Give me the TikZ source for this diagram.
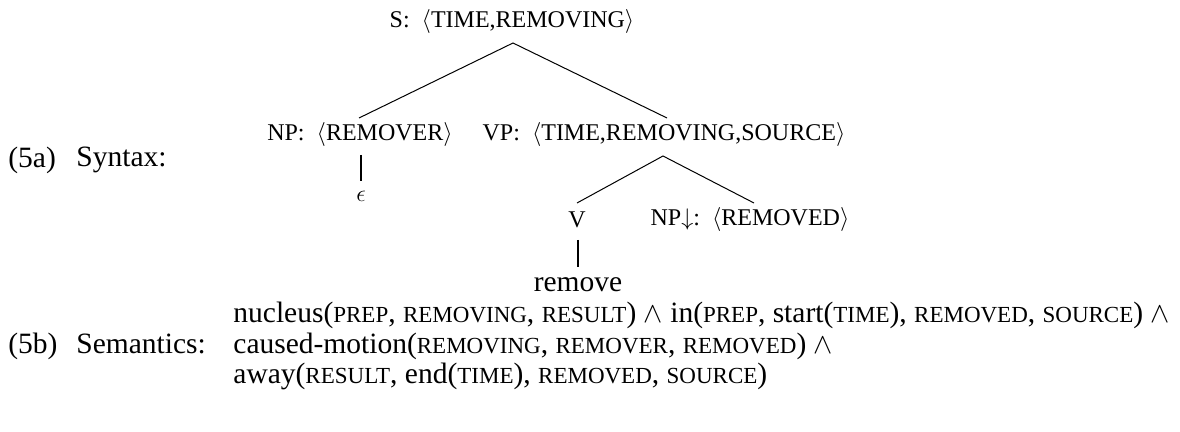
\documentclass[tikz,border=0pt]{standalone}
\usepackage{fontspec}
\setmainfont{Liberation Serif}
\newcommand\rlsc[1]{{\fontsize{11.5pt}{12pt}\selectfont #1}}
\newcommand\gapsp{\hspace{0.5em}}
\begin{document}
\begin{tikzpicture}[x=0.5pt,y=-0.5pt,
  treelab/.style={inner sep=0pt,font=\fontsize{12pt}{14pt}\selectfont},
  bigtext/.style={inner sep=0pt,font=\fontsize{14.75pt}{17pt}\selectfont},
  semline/.style={bigtext,anchor=base west,text height=10pt,text depth=3pt},
  branch/.style={line width=0.5pt},
  bar/.style={line width=1pt}]
\useasboundingbox (0,0) rectangle (1180,432);
% tree nodes
\node[treelab] (S) at (512,22) {S:\gapsp$\langle$TIME,REMOVING$\rangle$};
\node[treelab] (NP) at (360,135) {NP:\gapsp$\langle$REMOVER$\rangle$};
\node[treelab] (VP) at (664,135) {VP:\gapsp$\langle$TIME,REMOVING,SOURCE$\rangle$};
\node[treelab] (eps) at (361,196) {$\epsilon$};
\node[treelab] (V) at (577,220) {V};
\node[treelab] (NPd) at (750,220) {NP$\downarrow$:\gapsp$\langle$REMOVED$\rangle$};
\node[bigtext] (rem) at (578,285) {remove};
% attachment points
\coordinate (Sb) at (513,43);
\coordinate (NPt) at (359,118);
\coordinate (VPt) at (667,118);
\coordinate (NPb) at (361,155);
\coordinate (epst) at (361,181);
\coordinate (VPb) at (663,156);
\coordinate (Vt) at (577,203);
\coordinate (NPdt) at (754,203);
\coordinate (Vb) at (578,240);
\coordinate (remt) at (578,267);
\draw[branch] (NPt) -- (Sb) -- (VPt);
\draw[branch] (Vt) -- (VPb) -- (NPdt);
\draw[bar] (NPb) -- (epst);
\draw[bar] (Vb) -- (remt);
% labels
\node[bigtext,anchor=west] (l5a) at (8,160) {(5a)};
\node[bigtext,anchor=west] (syn) at (76,160) {Syntax:};
\node[semline] (l5b) at (8,354) {(5b)};
\node[semline] (sem) at (76,354) {Semantics:};
\node[semline] (sem1) at (233,323) {nucleus(\rlsc{PREP}, \rlsc{REMOVING}, \rlsc{RESULT}) $\wedge$ in(\rlsc{PREP}, start(\rlsc{TIME}), \rlsc{REMOVED}, \rlsc{SOURCE}) $\wedge$};
\node[semline] (sem2) at (233,354) {caused-motion(\rlsc{REMOVING}, \rlsc{REMOVER}, \rlsc{REMOVED}) $\wedge$};
\node[semline] (sem3) at (233,384) {away(\rlsc{RESULT}, end(\rlsc{TIME}), \rlsc{REMOVED}, \rlsc{SOURCE})};
\end{tikzpicture}
\end{document}
